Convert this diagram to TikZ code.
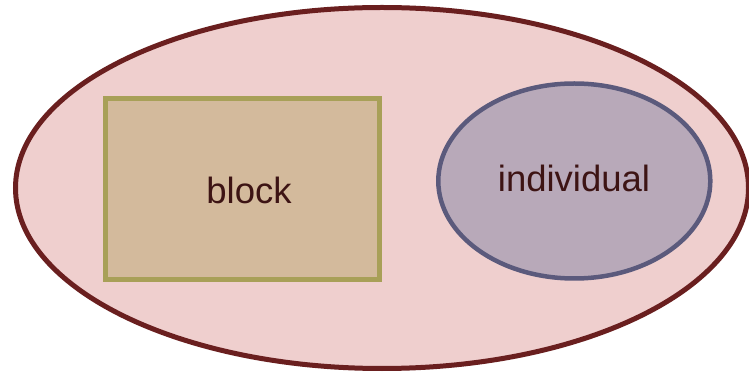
\documentclass[tikz,border=0pt]{standalone}
\usepackage{fontspec}
\setmainfont{Liberation Sans}
\usetikzlibrary{shapes.geometric}
\definecolor{outerfill}{HTML}{EFCFCE}
\definecolor{outerline}{HTML}{6A1F1F}
\definecolor{blockfill}{HTML}{D3BA9C}
\definecolor{blockline}{HTML}{A8A058}
\definecolor{indivfill}{HTML}{B8A9B9}
\definecolor{indivline}{HTML}{5B5A7C}
\definecolor{labeltext}{HTML}{3D1414}
\tikzset{
  label text/.style={text=labeltext, font=\fontsize{36.5}{42}\selectfont},
}
\begin{document}
\begin{tikzpicture}[x=1pt,y=1pt]
  \useasboundingbox (0,0) rectangle (749,372);
  \begin{scope}
    \clip (0,0) rectangle (749,372);
    % enclosing ellipse, its right edge just meeting the page border
    \draw[fill=outerfill, draw=outerline, line width=5pt]
      (382,184) ellipse [x radius=366.5, y radius=180.5];
  \end{scope}
  % block rectangle
  \draw[fill=blockfill, draw=blockline, line width=4.5pt]
    (105.5,92.5) rectangle (379.5,273.5);
  \node[label text] (block) at (249,182) {block};
  % individual ellipse
  \draw[fill=indivfill, draw=indivline, line width=4.5pt]
    (574.3,191) ellipse [x radius=136, y radius=97.5];
  \node[label text] (individual) at (574,194) {individual};
\end{tikzpicture}
\end{document}
